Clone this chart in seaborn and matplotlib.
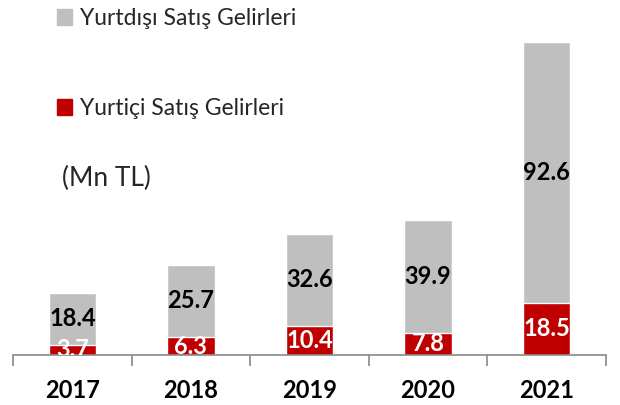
import matplotlib
matplotlib.use('Agg')
import matplotlib.pyplot as plt
import matplotlib.patches as mpatches
import pandas as pd
import seaborn as sns

years = ['2017', '2018', '2019', '2020', '2021']
yurtici = [3.7, 6.3, 10.4, 7.8, 18.5]
yurtdisi = [18.4, 25.7, 32.6, 39.9, 92.6]

gray = '#BFBFBF'
red = '#C00000'

sns.set_theme(style='white')
plt.rcParams['font.family'] = ['Lato', 'DejaVu Sans']

df = pd.DataFrame({'Yil': years, 'Yurtici': yurtici, 'Yurtdisi': yurtdisi})
df['Toplam'] = df['Yurtici'] + df['Yurtdisi']

fig = plt.figure(figsize=(6.2, 4.05), dpi=100)
ax = fig.add_axes([13 / 620, 1 - 355 / 405, 593 / 620, 345 / 405])

sns.barplot(data=df, x='Yil', y='Toplam', order=years, color=gray,
            width=0.4, saturation=1, ax=ax)
sns.barplot(data=df, x='Yil', y='Yurtici', order=years, color=red,
            width=0.4, saturation=1, ax=ax)

ax.set_xlim(-0.5, len(years) - 0.5)
ax.set_ylim(0, 122.3)
ax.set_xlabel('')
ax.set_ylabel('')
ax.set_yticks([])
for s in ['top', 'right', 'left']:
    ax.spines[s].set_visible(False)
ax.spines['bottom'].set_color('#898989')
ax.spines['bottom'].set_linewidth(1.2)

# ticks between categories
ax.set_xticks([i - 0.5 for i in range(len(years) + 1)], minor=True)
ax.tick_params(axis='x', which='minor', length=8, width=1.2, color='#898989', direction='out', bottom=True)
ax.tick_params(axis='x', which='major', length=0, pad=17)
for lbl in ax.get_xticklabels():
    lbl.set_fontsize(17)
    lbl.set_fontweight('bold')
    lbl.set_color('black')

# value labels
for i in range(len(years)):
    ax.text(i, yurtici[i] / 2, f'{yurtici[i]:.1f}', ha='center', va='center',
            color='white', fontsize=17, fontweight='bold', clip_on=True)
    ax.text(i, yurtici[i] + yurtdisi[i] / 2, f'{yurtdisi[i]:.1f}', ha='center', va='center',
            color='black', fontsize=17, fontweight='bold', clip_on=True)

handles = [mpatches.Patch(color=gray, label='Yurtdışı Satış Gelirleri'),
           mpatches.Patch(color=red, label='Yurtiçi Satış Gelirleri')]
fig.legend(handles=handles, loc='upper left', bbox_to_anchor=(48 / 620, 1 + 1 / 405),
           frameon=False, fontsize=16.5, handlelength=0.65, handleheight=0.65,
           handletextpad=0.35, labelspacing=3.0, borderaxespad=0)

fig.text(62 / 620, 1 - 178 / 405, '(Mn TL)', fontsize=19, va='center', ha='left')

fig.savefig('out.png', dpi=100)
